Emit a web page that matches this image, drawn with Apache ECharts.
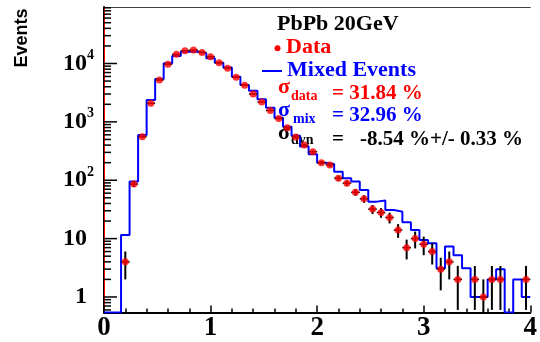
<!DOCTYPE html>
<html><head><meta charset="utf-8">
<script src="https://cdn.jsdelivr.net/npm/echarts@6/dist/echarts.min.js"></script>
<style>html,body{margin:0;padding:0;background:#fff}#c{width:540px;height:342px}</style>
</head><body><div id="c"></div>
<script>
// ---- data ----
const binWidth = 0.08;
const binCenters = [0.04,0.12,0.20,0.28,0.36,0.44,0.52,0.60,0.68,0.76,0.84,0.92,1.00,1.08,1.16,1.24,1.32,1.40,1.48,1.56,1.64,1.72,1.80,1.88,1.96,2.04,2.12,2.20,2.28,2.36,2.44,2.52,2.60,2.68,2.76,2.84,2.92,3.00,3.08,3.16,3.24,3.32,3.40,3.48,3.56,3.64,3.72,3.80,3.88,3.96];
const dataCounts = [0,0,4,86,557,2080,5210,9690,14360,16570,17000,15500,13090,10330,8280,5800,4240,3000,2190,1570,1140,790,550,400,308,200,183,108,89,62,48,32,28,23,14,7,10,8,6,3,4,2,0,2,1,2,2,0,0,2];
const dataErrors = [0,0,2,9.3,23.6,45.6,72,98,120,129,130,124,114,102,91,76,65,55,47,40,34,28,23.5,20,17.5,14.1,13.5,10.4,9.4,7.9,6.9,5.7,5.3,4.8,3.7,2.6,3.2,2.8,2.4,1.7,2,1.4,0,1.4,1,1.4,1.4,0,0,1.4];
const mixedCounts = [0,0,11.5,95,596,2370,5430,10080,13430,15920,16000,14960,12270,10330,8500,5940,4280,3420,2440,1750,1180,828,580,380,280,200,190,140,108,95,68,43,45,31,29,19,14,9.5,8.3,3.1,7.3,5.2,3.1,1,1,2,3,0,2,1];
const xRange = [0, 4];
const yRange = [0.542, 92900];
const yMajorTicks = [1, 10, 100, 1000, 10000];
const yTitle = 'Events';
const legendTitle = 'PbPb 20GeV';
const legendData = 'Data';
const legendMixed = 'Mixed Events';
const sigmaData = '= 31.84 %';
const sigmaMix = '= 32.96 %';
const sigmaDyn = '-8.54 %+/- 0.33 %';

// ---- build series data ----
const yMin = yRange[0], yMax = yRange[1];
const histData = binCenters.map((c, i) => [+(c - binWidth / 2).toFixed(2), mixedCounts[i] > 0 ? mixedCounts[i] : yMin]);
histData.push([xRange[1], mixedCounts[mixedCounts.length - 1] > 0 ? mixedCounts[mixedCounts.length - 1] : yMin]);
const pointData = [];
const errData = [];
binCenters.forEach((c, i) => {
  if (dataCounts[i] > 0) {
    pointData.push([c, dataCounts[i]]);
    errData.push([c, dataCounts[i], dataErrors[i]]);
  }
});
const yTickData = [];
for (let k = -1; k <= 4; k++) {
  for (let m = 1; m <= 9; m++) {
    const v = m * Math.pow(10, k);
    if (v >= yMin && v <= yMax) yTickData.push([0, v, m === 1 ? 13 : 7]);
  }
}

const serif = 'Liberation Serif';
function txt(x, y, text, size, color, family) {
  return {type: 'text', x: x, y: y, style: {text: text, fontSize: size, fontWeight: 'bold', fontFamily: family || serif, fill: color, align: 'left', verticalAlign: 'middle'}};
}
const chart = echarts.init(document.getElementById('c'), null, {renderer: 'canvas'});
chart.setOption({
  animation: false,
  backgroundColor: '#fff',
  grid: {left: 104, right: 4, top: 7, bottom: 29.5, containLabel: false},
  xAxis: [{
    type: 'value', min: xRange[0], max: xRange[1], interval: 1, position: 'bottom',
    axisLine: {show: true, lineStyle: {color: '#000', width: 2}},
    axisTick: {show: true, inside: true, length: 7, lineStyle: {color: '#000', width: 1.5}},
    minorTick: {show: true, splitNumber: 5, length: 4, lineStyle: {color: '#000', width: 1.5}},
    splitLine: {show: false},
    axisLabel: {fontSize: 27, fontWeight: 'bold', fontFamily: serif, color: '#000', margin: 2}
  }, {
    type: 'value', min: xRange[0], max: xRange[1], position: 'top',
    axisLine: {show: true, lineStyle: {color: '#444', width: 1}},
    axisTick: {show: false}, axisLabel: {show: false}, splitLine: {show: false}
  }],
  yAxis: [{
    type: 'log', logBase: 10, min: yMin, max: yMax, position: 'left',
    axisLine: {show: true, lineStyle: {color: '#000', width: 2}},
    axisTick: {show: false}, splitLine: {show: false}, minorTick: {show: false},
    axisLabel: {
      margin: 10,
      formatter: function (v) {
        const k = Math.round(Math.log10(v));
        if (Math.abs(v / Math.pow(10, k) - 1) > 1e-6) return '';
        if (yMajorTicks.indexOf(Math.pow(10, k)) < 0) return '';
        if (k === 0) return '{p|1}';
        if (k === 1) return '{p|10}';
        return '{b|10}{s|' + k + '}';
      },
      rich: {
        b: {fontFamily: serif, fontWeight: 'bold', fontSize: 24, color: '#000', lineHeight: 30},
        p: {fontFamily: serif, fontWeight: 'bold', fontSize: 24, color: '#000', lineHeight: 30, padding: [0, 7, 0, 0]},
        s: {fontFamily: serif, fontWeight: 'bold', fontSize: 14, color: '#000', lineHeight: 10, verticalAlign: 'top'}
      }
    }
  }, {
    type: 'value', min: 0, max: 1, position: 'right',
    axisLine: {show: true, lineStyle: {color: '#ff0000', width: 1}},
    axisTick: {show: false}, axisLabel: {show: false}, splitLine: {show: false}
  }],
  series: [{
    type: 'custom', name: 'yticks', xAxisIndex: 0, yAxisIndex: 0, silent: true, clip: false, z: 1,
    data: yTickData,
    renderItem: function (params, api) {
      const p = api.coord([api.value(0), api.value(1)]);
      const len = api.value(2);
      return {type: 'line', shape: {x1: p[0], y1: p[1], x2: p[0] + len, y2: p[1]}, style: {stroke: '#000', lineWidth: 1.5}};
    }
  }, {
    type: 'line', name: 'Mixed Events', xAxisIndex: 0, yAxisIndex: 0, step: 'end',
    showSymbol: false, symbol: 'none', data: histData, z: 3,
    lineStyle: {color: '#0000ff', width: 2}
  }, {
    type: 'custom', name: 'errors', xAxisIndex: 0, yAxisIndex: 0, silent: true, z: 4,
    data: errData,
    renderItem: function (params, api) {
      const x = api.value(0), y = api.value(1), e = api.value(2);
      const lo = Math.max(y - e, yMin), hi = y + e;
      const pT = api.coord([x, hi]), pB = api.coord([x, lo]);
      const pL = api.coord([x - binWidth / 2, y]), pR = api.coord([x + binWidth / 2, y]);
      return {type: 'group', children: [
        {type: 'line', shape: {x1: pT[0], y1: pT[1], x2: pB[0], y2: pB[1]}, style: {stroke: '#000', lineWidth: 2}},
        {type: 'line', shape: {x1: pL[0], y1: pL[1], x2: pR[0], y2: pR[1]}, style: {stroke: '#000', lineWidth: 1.5}}
      ]};
    }
  }, {
    type: 'scatter', name: 'Data', xAxisIndex: 0, yAxisIndex: 0, z: 5,
    symbol: 'circle', symbolSize: 7, data: pointData,
    itemStyle: {color: '#ff0000'}
  }],
  graphic: [
    {type: 'text', x: 22, y: 38, rotation: Math.PI / 2,
     style: {text: yTitle, fontSize: 18, fontWeight: 'bold', fontFamily: 'Liberation Sans', fill: '#000', align: 'center', verticalAlign: 'middle'}},
    txt(277, 24, legendTitle, 22, '#000'),
    {type: 'circle', shape: {cx: 277.5, cy: 48.3, r: 3}, style: {fill: '#ff0000'}},
    txt(286, 47.4, legendData, 22, '#ff0000'),
    {type: 'line', shape: {x1: 262, y1: 71, x2: 282, y2: 71}, style: {stroke: '#0000ff', lineWidth: 2}},
    txt(287, 70.7, legendMixed, 22, '#0000ff'),
    txt(278, 87.4, 'σ', 22, '#ff0000'),
    txt(291, 96.2, 'data', 14, '#ff0000'),
    txt(332, 93.4, sigmaData, 21, '#ff0000'),
    txt(278, 110.7, 'σ', 22, '#0000ff'),
    txt(293, 119.5, 'mix', 14, '#0000ff'),
    txt(332, 116, sigmaMix, 21, '#0000ff'),
    txt(278, 133.4, 'σ', 22, '#000'),
    txt(291, 140.5, 'dyn', 14, '#000'),
    txt(332, 139.4, '=', 21, '#000'),
    txt(360, 139.4, sigmaDyn, 21, '#000')
  ]
});
</script>
</body></html>
